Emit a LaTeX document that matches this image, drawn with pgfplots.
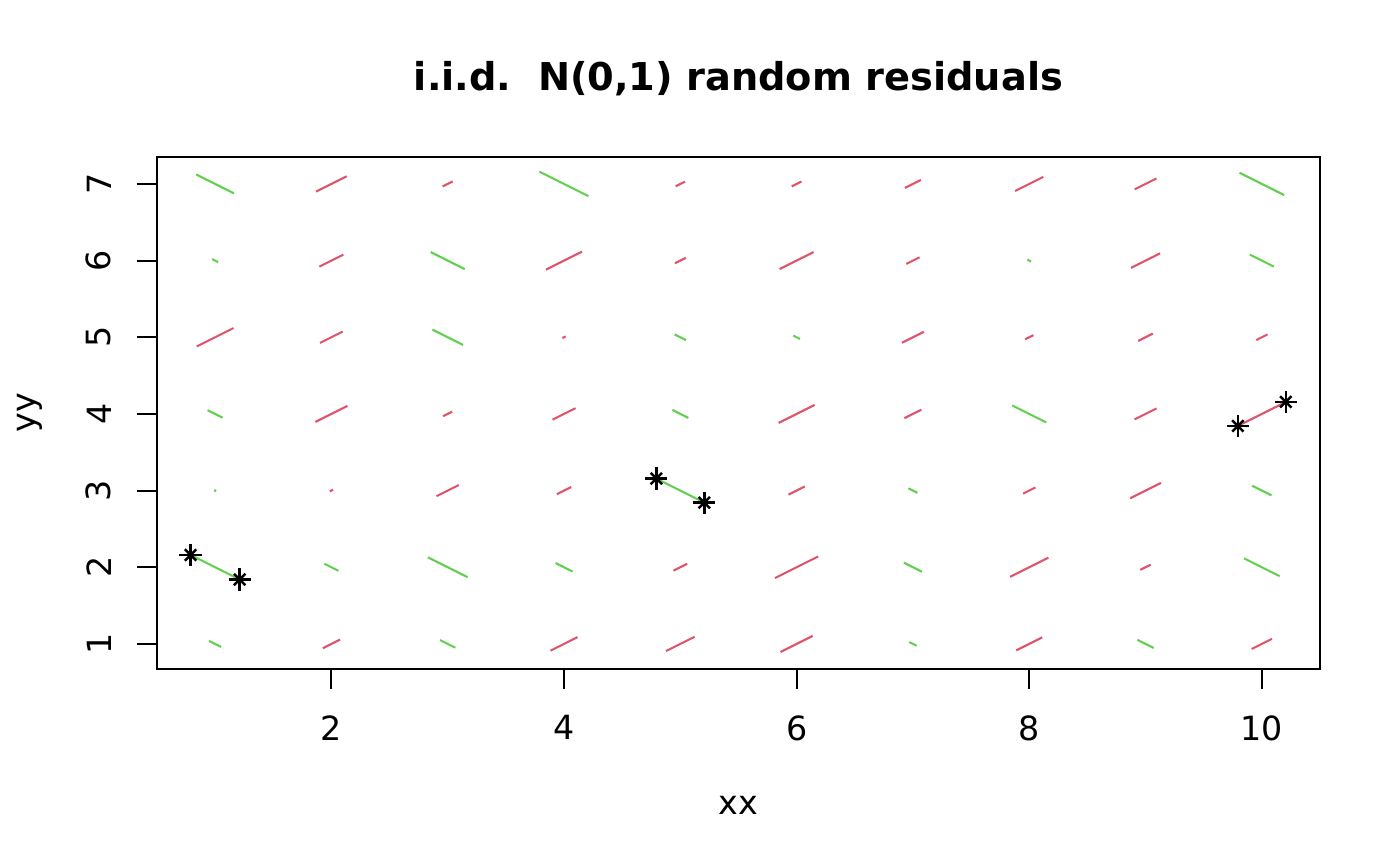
\documentclass[border=0pt]{standalone}
\usepackage{pgfplots}
\pgfplotsset{compat=1.18}
\usepackage{pgfplotstable}
\usepackage{fontspec}
\setmainfont{DejaVu Sans}
\definecolor{rred}{HTML}{DF536B}
\definecolor{rgreen}{HTML}{61D04F}

% x y w  (w = full horizontal span of the segment, in picture pixels)
\pgfplotstableread{
x y w
2 7 30.7
3 7 10
5 7 9.3
6 7 9.7
7 7 16
8 7 28.3
9 7 21.7
2 6 24
4 6 36
5 6 11
6 6 34
7 6 13.3
9 6 29
1 5 36.7
2 5 22.7
4 5 3.3
7 5 22
8 5 8.3
9 5 14.7
10 5 11.3
2 4 32
3 4 9
4 4 23
6 4 36
7 4 17
9 4 22
10 4 48
2 3 3.3
3 3 22.3
4 3 14.3
6 3 16.3
8 3 12.3
9 3 30.7
5 2 13.7
6 2 43.3
8 2 38.3
9 2 10.3
2 1 17.3
4 1 27
5 1 28.7
6 1 32.3
8 1 26
10 1 20.3
}\redtab

\pgfplotstableread{
x y w
1 7 37.7
4 7 49
10 7 44.7
1 6 6
3 6 34
8 6 3.7
10 6 24
3 5 30.7
5 5 11.3
6 5 6.7
1 4 15
5 4 16
8 4 34
1 3 2
5 3 48
7 3 9
10 3 19.3
1 2 49
2 2 14
3 2 39.7
4 2 17
7 2 18
10 2 35.7
1 1 12
3 1 15.3
7 1 7.3
9 1 16.3
}\greentab

\begin{document}
\begin{tikzpicture}
\useasboundingbox (-56.5pt,-70.9pt) rectangle (447.5pt,240.8pt);
\begin{axis}[
  at={(0pt,0pt)}, anchor=south west,
  scale only axis,
  width=418.7pt, height=184.3pt,
  xmin=0.5, xmax=10.5, ymin=0.674, ymax=7.352,
  axis line style={line width=0.75pt},
  every tick/.style={black, line width=0.75pt},
  tick align=outside,
  major tick length=7.2pt,
  xtick={2,4,6,8,10}, ytick={1,2,3,4,5,6,7},
  xtick pos=left, ytick pos=left,
  /pgf/number format/assume math mode=true,
  ticklabel style={font=\fontsize{12}{14}\selectfont, inner sep=0pt},
  xticklabel style={anchor=north},
  yticklabel style={rotate=90, anchor=south},
  xticklabel shift=9.3pt,
  yticklabel shift=9pt,
  xlabel={xx}, ylabel={yy},
  label style={font=\fontsize{12}{14}\selectfont},
  xlabel style={at={(axis description cs:0.5,-0.2659)}, anchor=center},
  ylabel style={at={(axis description cs:-0.1091,0.5)}, anchor=center},
  title={i.i.d.\ \ N(0,1) random residuals},
  title style={font=\fontsize{13.8}{16}\selectfont\bfseries, at={(axis description cs:0.5,1.0972)}, anchor=base},
  clip=true,
]
\addplot[rred, line width=0.75pt, mark=none,
  quiver={u={\thisrow{w}/116.3}, v={\thisrow{w}/153.3}}]
  table[x expr={\thisrow{x}-\thisrow{w}/232.6}, y expr={\thisrow{y}-\thisrow{w}/306.6}] {\redtab};
\addplot[rgreen, line width=0.75pt, mark=none,
  quiver={u={\thisrow{w}/116.3}, v={-\thisrow{w}/153.3}}]
  table[x expr={\thisrow{x}-\thisrow{w}/232.6}, y expr={\thisrow{y}+\thisrow{w}/306.6}] {\greentab};
\addplot[only marks, mark=+, mark size=4pt, black, mark options={line width=0.9pt}]
  coordinates {(0.789,2.160) (1.211,1.840) (4.794,3.157) (5.206,2.843) (9.794,3.843) (10.206,4.157)};
\addplot[only marks, mark=x, mark size=2.9pt, black, mark options={line width=0.9pt}]
  coordinates {(0.789,2.160) (1.211,1.840) (4.794,3.157) (5.206,2.843) (9.794,3.843) (10.206,4.157)};
\end{axis}
\end{tikzpicture}
\end{document}
